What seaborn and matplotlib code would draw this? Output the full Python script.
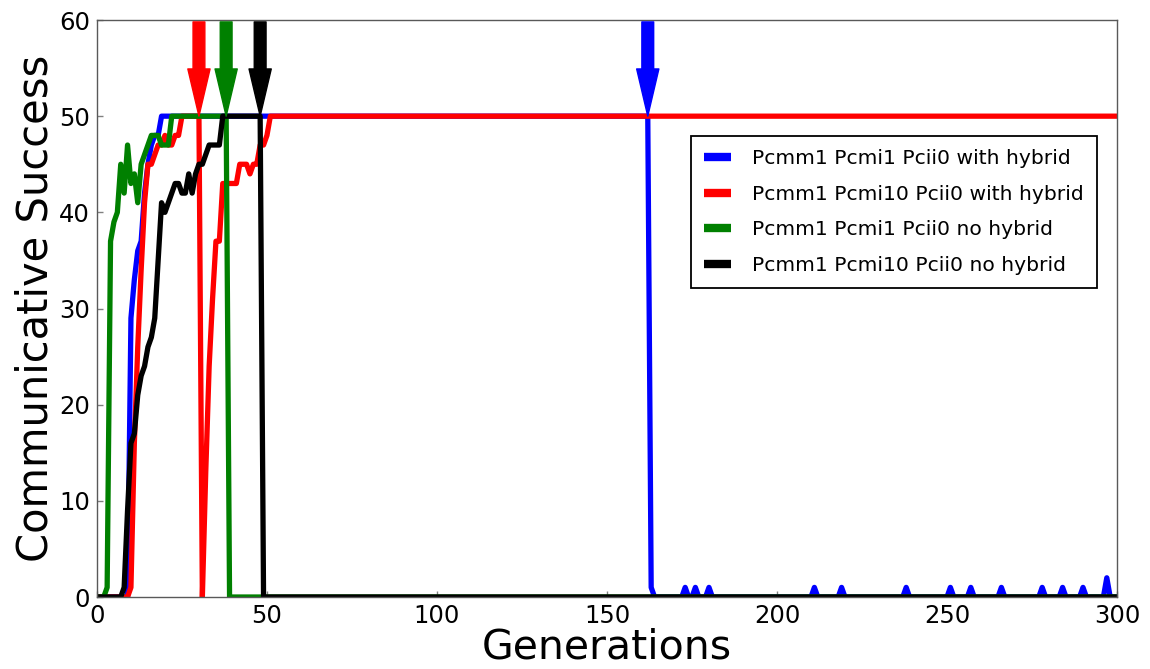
import matplotlib
matplotlib.use("Agg")
import matplotlib.pyplot as plt
import pandas as pd
import seaborn as sns

# Communicative success per generation (breakpoints; straight segments between them)
blue_gen = [0, 9, 10, 11, 12, 13, 14, 15, 16, 17, 18, 19, 162, 163, 164,
            172, 173, 174, 175, 176, 177, 179, 180, 181, 210, 211, 212,
            218, 219, 220, 237, 238, 239, 250, 251, 252, 256, 257, 258,
            265, 266, 267, 277, 278, 279, 283, 284, 285, 289, 290, 291,
            296, 297, 298, 300]
blue_val = [0, 0, 29, 33, 36, 37, 42, 45, 47, 48, 48, 50, 50, 1, 0,
            0, 1, 0, 0, 1, 0, 0, 1, 0, 0, 1, 0,
            0, 1, 0, 0, 1, 0, 0, 1, 0, 0, 1, 0,
            0, 1, 0, 0, 1, 0, 0, 1, 0, 0, 1, 0,
            0, 2, 0, 0]

red_gen = [0, 9, 10, 11, 12, 13, 14, 15, 16, 17, 18, 19, 20, 21, 22, 23, 24, 25,
           30, 31, 32, 33, 34, 35, 36, 37, 41, 42, 43, 44, 45, 46, 47, 48, 49,
           50, 51, 300]
red_val = [0, 0, 1, 16, 26, 34, 41, 45, 45, 46, 47, 47, 48, 47, 47, 48, 48, 50,
           50, 0, 13, 24, 31, 37, 37, 43, 43, 45, 45, 45, 44, 45, 45, 47, 47,
           48, 50, 50]

green_gen = [0, 2, 3, 4, 5, 6, 7, 8, 9, 10, 11, 12, 13, 14, 15, 16, 17, 18,
             19, 20, 21, 22, 38, 39, 300]
green_val = [0, 0, 1, 37, 39, 40, 45, 42, 47, 43, 44, 41, 45, 46, 47, 48, 48, 48,
             47, 47, 47, 50, 50, 0, 0]

black_gen = [0, 7, 8, 9, 10, 11, 12, 13, 14, 15, 16, 17, 18, 19, 20, 21, 22,
             23, 24, 25, 26, 27, 28, 29, 30, 31, 32, 33, 34, 35, 36, 37, 48,
             49, 300]
black_val = [0, 0, 1, 9, 16, 17, 21, 23, 24, 26, 27, 29, 35, 41, 40, 41, 42,
             43, 43, 42, 42, 44, 42, 44, 45, 45, 46, 47, 47, 47, 47, 50, 50,
             0, 0]

series_labels = ["Pcmm1 Pcmi1 Pcii0 with hybrid",
                 "Pcmm1 Pcmi10 Pcii0 with hybrid",
                 "Pcmm1 Pcmi1 Pcii0 no hybrid",
                 "Pcmm1 Pcmi10 Pcii0 no hybrid"]
series_colors = ["blue", "red", "green", "black"]

# Generation at which each run loses its stable success
collapse_gen = [162, 30, 38, 48]

x_ticks = [0, 50, 100, 150, 200, 250, 300]
y_ticks = [0, 10, 20, 30, 40, 50, 60]

sns.set_style("white")
plt.rcParams["font.family"] = ["DejaVu Sans"]
plt.rcParams["text.color"] = "black"
plt.rcParams["axes.labelcolor"] = "black"
plt.rcParams["xtick.color"] = "black"
plt.rcParams["ytick.color"] = "black"

fig = plt.figure(figsize=(11.5, 6.69), dpi=100)
ax = fig.add_axes([0.0843, 0.1076, 0.887, 0.8625])

series = [(blue_gen, blue_val), (red_gen, red_val),
          (green_gen, green_val), (black_gen, black_val)]
for (g, v), lab, col in zip(series, series_labels, series_colors):
    df = pd.DataFrame({"Generations": g, "Success": v})
    sns.lineplot(data=df, x="Generations", y="Success", color=col,
                 linewidth=3.8, label=lab, ax=ax, estimator=None, sort=False)

for g, col in zip(collapse_gen, series_colors):
    ax.annotate("", xy=(g, 50), xytext=(g, 59.8),
                arrowprops=dict(facecolor=col, edgecolor=col, width=8.5,
                                headwidth=16, headlength=34, shrink=0.0),
                annotation_clip=False)

ax.set_xlim(0, 300)
ax.set_ylim(0, 60)
ax.set_xticks(x_ticks)
ax.set_yticks(y_ticks)
ax.set_xlabel("Generations", fontsize=29.5, labelpad=0)
ax.set_ylabel("Communicative Success", fontsize=30, labelpad=2)
ax.tick_params(direction="in", length=4, width=1, color="0.5",
               labelcolor="black", labelsize=17.5, pad=5,
               bottom=True, left=True)
for sp in ax.spines.values():
    sp.set_color("0.35")
    sp.set_linewidth(1.0)

handles, labels = ax.get_legend_handles_labels()
leg = ax.legend(handles, labels, loc="upper right", bbox_to_anchor=(0.98, 0.799),
                fontsize=14.6, frameon=True, fancybox=False, edgecolor="black",
                framealpha=1, handlelength=1.35, handletextpad=1.0,
                borderpad=0.65, labelspacing=0.82, borderaxespad=0.0)
leg.get_frame().set_linewidth(1.3)
for ln in leg.get_lines():
    ln.set_linewidth(6)
    ln.set_solid_capstyle("butt")

fig.savefig("out.png", dpi=100)
